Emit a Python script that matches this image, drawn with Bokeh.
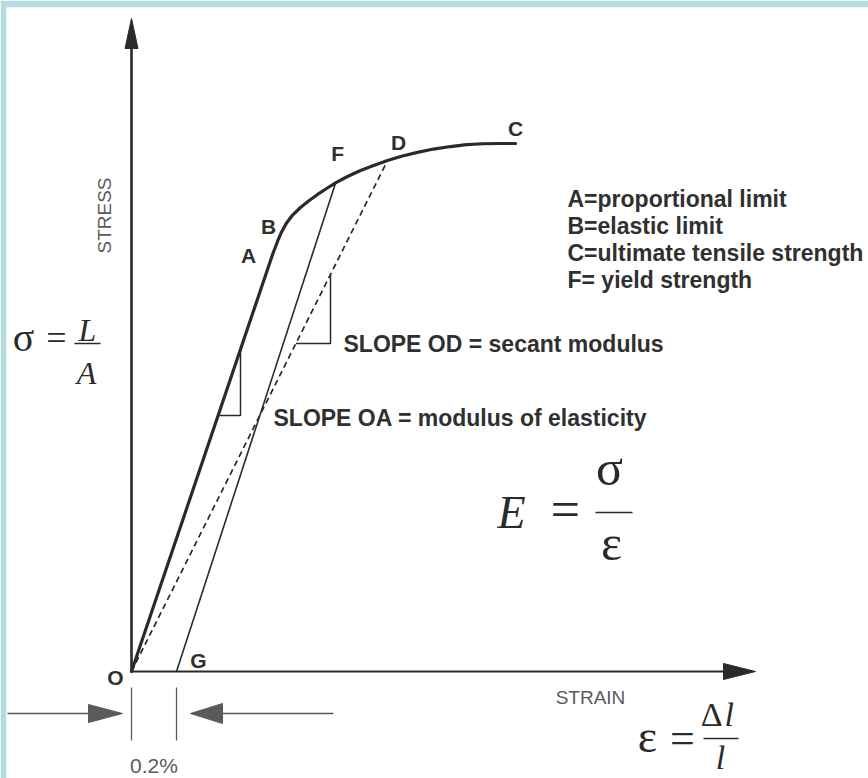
import math
from bokeh.plotting import figure
from bokeh.models import Range1d, Label
from bokeh.embed import file_html
from bokeh.resources import INLINE

# ---- Engineering stress-strain curve (strain in %, stress in MPa) ----
strain = [0.0, 0.627, 0.649, 0.667, 0.689, 0.716, 0.751, 0.787, 0.827, 0.867, 0.907,
          0.960, 1.018, 1.076, 1.138, 1.204, 1.271, 1.342, 1.418, 1.489, 1.564, 1.636, 1.707]
stress = [0.0, 315.9, 325.8, 333.0, 339.8, 345.8, 351.5, 356.4, 361.4, 365.9, 370.1,
          375.0, 379.5, 383.3, 387.1, 390.5, 393.3, 395.8, 397.7, 399.1, 399.8, 400.0, 400.0]

# named points on the curve (index into the arrays above)
point_names = ["A", "B", "F", "D", "C"]
point_index = [1, 4, 10, 14, 22]

offset_strain = 0.2          # 0.2 % offset that defines the yield strength

legend_lines = [
    "A=proportional limit",
    "B=elastic limit",
    "C=ultimate tensile strength",
    "F= yield strength",
]
slope_od_text = "SLOPE OD = secant modulus"
slope_oa_text = "SLOPE OA = modulus of elasticity"

# ---- page layout ----
W, H = 868, 778
PAD_L, PAD_T = 6, 7
OX, OY = 131, 671            # origin O on the page
SX = 225.0                   # px per 1 % strain
SY = 1.32                    # px per MPa

INK = "#2a2a2a"
TXT = "#303030"
GREY = "#5a5a5a"
SANS = "Liberation Sans"
SERIF = "Liberation Serif"


def X(px):
    return (px - OX) / SX


def Y(py):
    return (OY - py) / SY


p = figure(width=W, height=H,
           x_range=Range1d(X(PAD_L), X(W)), y_range=Range1d(Y(H), Y(PAD_T)),
           x_axis_type=None, y_axis_type=None,
           toolbar_location=None, output_backend="svg",
           min_border_left=PAD_L, min_border_top=PAD_T,
           min_border_right=0, min_border_bottom=0)
p.title.visible = False
p.background_fill_color = "white"
p.border_fill_color = "#b5dce0"
p.outline_line_color = None


def text(x, y, s, size, font=SANS, style="normal", color=TXT,
         align="center", angle=0.0):
    p.add_layout(Label(x=x, y=y, text=s, text_font=font,
                       text_font_size=f"{size}px", text_font_style=style,
                       text_color=color, text_align=align,
                       text_baseline="middle", angle=angle))


def math_text(cx, cy, s, size, style="normal", kind="cap", align="center"):
    """Serif formula glyph centred (visually) on page pixel (cx, cy)."""
    shift = {"cap": 0.0, "low": 0.108, "eq": 0.05}[kind] * size
    text(X(cx), Y(cy - shift), s, size, font=SERIF, style=style, color=INK, align=align)


def bar(x0, x1, py):
    p.line([X(x0), X(x1)], [Y(py), Y(py)], line_width=1.3, color=INK)


def head(tip_px, tip_py, direction, length, half, color=INK):
    """Filled arrow head given in page pixels."""
    if direction == "up":
        pts = [(tip_px, tip_py), (tip_px - half, tip_py + length), (tip_px + half, tip_py + length)]
    elif direction == "right":
        pts = [(tip_px, tip_py), (tip_px - length, tip_py - half), (tip_px - length, tip_py + half)]
    else:
        pts = [(tip_px, tip_py), (tip_px + length, tip_py - half), (tip_px + length, tip_py + half)]
    p.patch([X(a) for a, _ in pts], [Y(b) for _, b in pts],
            fill_color=color, line_color=color, line_width=1)


# ---- axes with arrow heads ----
stress_axis_top = Y(18)
strain_axis_end = X(755)
p.line([0, 0], [0, stress_axis_top - 20 / SY], line_width=2.6, color=INK)
head(OX, 18, "up", 30, 6.5)
p.line([0, strain_axis_end - 20 / SX], [0, 0], line_width=2.2, color=INK)
head(755, OY, "right", 32, 8)

# ---- stress-strain curve ----
p.line(strain, stress, line_width=3.2, color=INK, line_join="round", line_cap="round")

iA, iF, iD = point_index[0], point_index[2], point_index[3]
E = stress[iA] / strain[iA]              # modulus of elasticity (slope OA)
Es = stress[iD] / strain[iD]             # secant modulus (slope OD)

# 0.2 % offset line G -> F
p.line([offset_strain, strain[iF]], [0, stress[iF]], line_width=1.6, color=INK)
# secant O -> D
p.line([0, strain[iD]], [0, stress[iD]], line_width=1.7, color=INK, line_dash="6 4")

# slope triangle on OA
s1, b1 = X(240), Y(415)
p.line([b1 / E, s1, s1], [b1, b1, E * s1], line_width=1.5, color=INK)
# slope triangle on OD
s2, b2 = X(330), Y(343)
p.line([b2 / Es, s2, s2], [b2, b2, Es * s2], line_width=1.5, color=INK)

# ---- 0.2 % offset dimension ----
tick_top, tick_bot = Y(687), Y(740)
for s in (0.0, offset_strain):
    p.line([s, s], [tick_top, tick_bot], line_width=1.3, color=GREY)
arrow_y = 713
p.line([X(7), X(90)], [Y(arrow_y), Y(arrow_y)], line_width=1.6, color=GREY)
head(122, arrow_y, "right", 34, 9, GREY)
p.line([X(220), X(333)], [Y(arrow_y), Y(arrow_y)], line_width=1.6, color=GREY)
head(190, arrow_y, "left", 32, 10, GREY)
text(offset_strain / 2, Y(765), "0.2%", 21, color=GREY)

# ---- point letters ----
label_offsets = [(-24, -1), (-18, -4), (2, 29), (11, 18), (0, 15)]
for name, i, (ddx, ddy) in zip(point_names, point_index, label_offsets):
    text(strain[i] + ddx / SX, stress[i] + ddy / SY, name, 21, style="bold")
text(X(OX - 16), Y(OY + 6), "O", 21, style="bold")
text(offset_strain + 22 / SX, Y(OY - 11), "G", 21, style="bold")

# ---- axis titles ----
text(X(104), Y(215), "STRESS", 19, color=GREY, angle=math.pi / 2)
text(X(590), Y(697), "STRAIN", 19, color=GREY)

# ---- legend of named points ----
for k, line in enumerate(legend_lines):
    text(X(567), Y(198 + 27 * k), line, 23, style="bold", align="left")

text(X(343), Y(343), slope_od_text, 23, style="bold", align="left")
text(X(273), Y(417), slope_oa_text, 23, style="bold", align="left")

# ---- formulas ----
# sigma = L / A
math_text(23, 341, "σ", 40, kind="low")
math_text(56, 339, "=", 36, kind="eq")
math_text(87, 329, "L", 32, style="italic")
bar(74, 100, 343)
math_text(86, 372, "A", 32, style="italic")

# E = sigma / epsilon
math_text(511, 512, "E", 46, style="italic")
math_text(565, 512, "=", 52, kind="eq")
math_text(609, 473, "σ", 50, kind="low")
bar(595, 632, 512)
math_text(611, 548, "ε", 50, kind="low")

# epsilon = delta l / l
math_text(647, 741, "ε", 46, kind="low")
math_text(682, 740, "=", 44, kind="eq")
math_text(722, 714, "Δ", 34, align="right")
math_text(724, 714, "l", 34, style="italic", align="left")
bar(703, 738, 738)
math_text(720, 757, "l", 34, style="italic")

open("out.html", "w").write(file_html(p, INLINE))
